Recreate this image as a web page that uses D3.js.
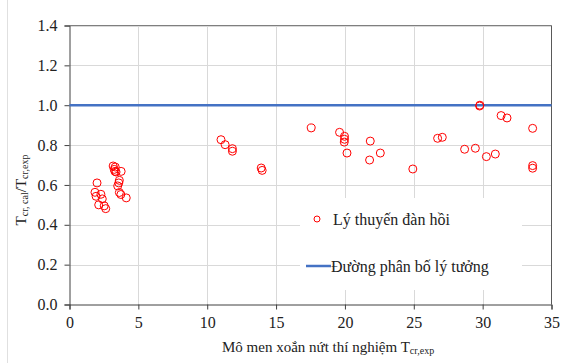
<!DOCTYPE html>
<html>
<head>
<meta charset="utf-8">
<script src="https://cdn.jsdelivr.net/npm/d3@7"></script>
<style>
  html, body { margin: 0; padding: 0; background: #fff; }
  svg { display: block; }
  svg text { font-family: 'Liberation Serif', 'Times New Roman', 'DejaVu Serif', serif; }
</style>
</head>
<body>
<svg id="chart" width="561" height="363"></svg>
<script>
// measured torsional cracking moment (x) vs ratio cal/exp (y)
const expMoment = [
  2.0, 1.85, 1.93, 2.28, 2.38, 2.12, 2.52, 2.63,
  3.17, 3.32, 3.25, 3.38, 3.3, 3.75, 3.62, 3.58, 3.5, 3.62, 3.73, 4.12,
  11.0, 11.3, 11.83, 11.83, 13.92, 13.99,
  17.55, 19.61, 19.97, 19.97, 19.95, 20.15, 21.84, 21.79, 22.57, 24.93,
  26.73, 27.07, 28.69, 29.47, 29.78, 29.8, 30.27, 30.92, 31.34, 31.77, 33.63, 33.63, 33.63
];
const ratio = [
  0.61, 0.563, 0.543, 0.553, 0.53, 0.50, 0.495, 0.481,
  0.695, 0.69, 0.678, 0.665, 0.668, 0.668, 0.623, 0.61, 0.595, 0.562, 0.552, 0.535,
  0.827, 0.802, 0.782, 0.769, 0.685, 0.673,
  0.886, 0.864, 0.844, 0.829, 0.815, 0.76, 0.82, 0.725, 0.76, 0.68,
  0.834, 0.839, 0.779, 0.784, 0.996, 1.0, 0.742, 0.755, 0.948, 0.936, 0.884, 0.697, 0.684
];
const idealLine = [[0, 1.0], [35, 1.0]];
const xTicks = [0, 5, 10, 15, 20, 25, 30, 35];
const yTicks = [0, 0.2, 0.4, 0.6, 0.8, 1.0, 1.2, 1.4];
const legendLabels = ['Lý thuyến đàn hồi', 'Đường phân bố lý tưởng'];

const svg = d3.select('#chart');
const x = d3.scaleLinear().domain([0, 35]).range([69.5, 551.5]);
const y = d3.scaleLinear().domain([0, 1.4]).range([304.5, 25.5]);
const gridColor = '#d9d9d9';
const axisColor = '#404040';
const serif = "'Liberation Serif', 'Times New Roman', serif";

// faint outer chart border on the left
svg.append('line').attr('x1', 7.5).attr('x2', 7.5).attr('y1', 0).attr('y2', 363).attr('stroke', '#e0e0e0');

// gridlines
svg.append('g').selectAll('line').data(yTicks.slice(1)).join('line')
  .attr('x1', x(0)).attr('x2', x(35)).attr('y1', d => Math.round(y(d)) + 0.5).attr('y2', d => Math.round(y(d)) + 0.5)
  .attr('stroke', gridColor).attr('stroke-width', 1);
svg.append('g').selectAll('line').data(xTicks.slice(1, -1)).join('line')
  .attr('y1', y(0)).attr('y2', y(1.4)).attr('x1', d => Math.round(x(d)) + 0.5).attr('x2', d => Math.round(x(d)) + 0.5)
  .attr('stroke', gridColor).attr('stroke-width', 1);

// plot frame: top & right
svg.append('line').attr('x1', x(0)).attr('x2', x(35)).attr('y1', y(1.4)).attr('y2', y(1.4)).attr('stroke', '#7f7f7f');
svg.append('line').attr('x1', x(35)).attr('x2', x(35)).attr('y1', y(1.4)).attr('y2', y(0)).attr('stroke', '#595959');

// legend background hides gridlines
svg.append('rect').attr('x', 300).attr('y', 198).attr('width', 222).attr('height', 92).attr('fill', '#fff');

// axes
const xAxis = d3.axisBottom(x).tickValues(xTicks).tickSize(5).tickPadding(7).tickFormat(d3.format('d'));
const gx = svg.append('g').attr('transform', `translate(0,${y(0)})`).call(xAxis);
const yAxis = d3.axisLeft(y).tickValues(yTicks).tickSize(5).tickPadding(7).tickFormat(d3.format('.1f'));
const gy = svg.append('g').attr('transform', `translate(${x(0)},0)`).call(yAxis);
[gx, gy].forEach(g => {
  g.attr('font-family', serif).attr('font-size', 16);
  g.select('.domain').attr('stroke', axisColor);
  g.selectAll('.tick line').attr('stroke', axisColor);
  g.selectAll('.tick text').attr('fill', '#222');
});

// ideal line
const line = d3.line().x(d => x(d[0])).y(d => y(d[1]));
svg.append('path').datum(idealLine).attr('d', line)
  .attr('stroke', '#4472c4').attr('stroke-width', 2.5).attr('fill', 'none');

// points
svg.append('g').selectAll('circle').data(expMoment.map((v, i) => [v, ratio[i]])).join('circle')
  .attr('cx', d => x(d[0])).attr('cy', d => y(d[1])).attr('r', 4)
  .attr('fill', 'none').attr('stroke', '#ff0000').attr('stroke-width', 1);

// legend
const lg = svg.append('g').attr('font-size', 16).attr('fill', '#222');
lg.append('circle').attr('cx', 317).attr('cy', 219).attr('r', 3)
  .attr('fill', 'none').attr('stroke', '#ff0000');
lg.append('text').attr('x', 333).attr('y', 219).attr('dy', '0.35em').text(legendLabels[0]);
lg.append('line').attr('x1', 306).attr('x2', 331).attr('y1', 266).attr('y2', 266)
  .attr('stroke', '#4472c4').attr('stroke-width', 2.5);
lg.append('text').attr('x', 331).attr('y', 266).attr('dy', '0.35em').text(legendLabels[1]);

// axis titles
const xt = svg.append('text').attr('x', 222).attr('y', 352).attr('font-size', 15).attr('fill', '#222');
xt.append('tspan').text('Mô men xoắn nứt thí nghiệm T');
xt.append('tspan').attr('font-size', 10).attr('dy', 2).text('cr,exp');

const yt = svg.append('text').attr('transform', 'translate(26,190) rotate(-90)')
  .attr('text-anchor', 'middle').attr('font-size', 15).attr('fill', '#222');
yt.append('tspan').text('T');
yt.append('tspan').attr('font-size', 10).attr('dy', 2).text('cr, cal');
yt.append('tspan').attr('dy', -2).text('/T');
yt.append('tspan').attr('font-size', 10).attr('dy', 2).text('cr,exp');
</script>
</body>
</html>
